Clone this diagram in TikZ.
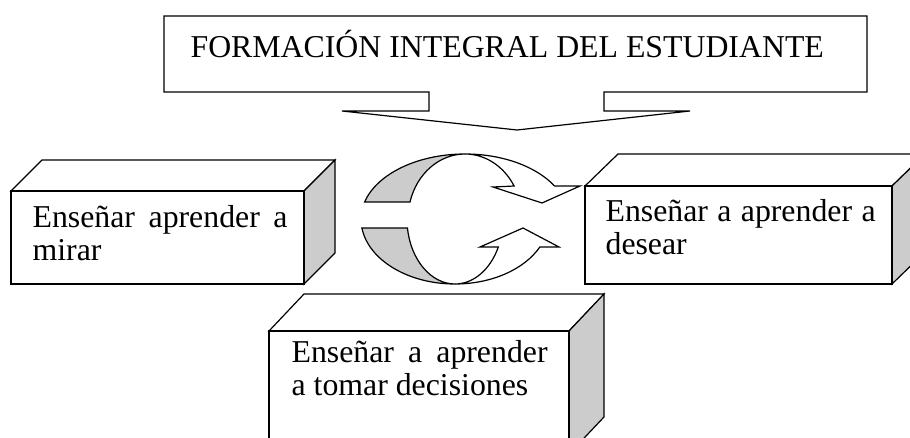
\documentclass[tikz,border=0pt]{standalone}
\usepackage{fontspec}
\setmainfont{Liberation Serif}
\usetikzlibrary{calc}
\tolerance=9999
\hyphenpenalty=10000

\begin{document}
\begin{tikzpicture}[x=1pt,y=1pt,yscale=-1,line width=1.2pt]
\tikzstyle{every node}+=[inner sep=0pt]
\tikzstyle{boxtext}=[anchor=base west,align=justify,font=\fontsize{31.8}{33}\selectfont]
\tikzstyle{face}=[fill=white,draw=black]
\tikzstyle{sideface}=[fill=black!20,draw=black]
\useasboundingbox (0,0) rectangle (910,438);
\draw[face] (164,16) -- (867,16) -- (867,92) -- (604,92) -- (604,111) -- (690,111) -- (517,130) -- (342,111) -- (429,111) -- (429,92) -- (164,92) -- cycle;
\node[anchor=base west,font=\fontsize{31.8}{33}\selectfont] (titulo) at (190,58) {FORMACIÓN INTEGRAL DEL ESTUDIANTE};
\draw[face] (11,191) -- (42,160) -- (335,160) -- (304,191) -- cycle;
\draw[sideface] (304,191) -- (335,160) -- (335,253) -- (304,284) -- cycle;
\draw[face] (11,191) rectangle (304,284);
\node[boxtext,text width=255pt] (mirar) at (32,228) {Enseñar aprender a mirar};
\draw[face] (585,186) -- (618,154) -- (925,154) -- (892,186) -- cycle;
\draw[sideface] (892,186) -- (925,154) -- (925,252) -- (892,284) -- cycle;
\draw[face] (585,186) rectangle (892,284);
\node[boxtext,text width=270pt] (desear) at (605,222) {Enseñar a aprender a desear};
\draw[face] (269,331) -- (304,294) -- (604,294) -- (569,331) -- cycle;
\draw[sideface] (569,331) -- (604,294) -- (604,417) -- (569,454) -- cycle;
\draw[face] (269,331) rectangle (569,454);
\node[boxtext,text width=256pt] (decidir) at (291,362) {Enseñar a aprender a tomar decisiones};
\coordinate (cu) at (465,219);
\coordinate (cl) at (455,219);
\draw[sideface] ($(cu)+(195.2:104 and 65)$) arc[start angle=195.2,end angle=270,x radius=104,y radius=65] arc[start angle=270,end angle=195.2,x radius=57,y radius=65] -- cycle;
\draw[face] ($(cu)+(270:104 and 65)$) arc[start angle=270,end angle=329.5,x radius=104,y radius=65] -- (580,186) -- (542,203) -- (493,187) -- ($(cu)+(329.5:57 and 65)$) arc[start angle=329.5,end angle=270,x radius=57,y radius=65] -- cycle;
\draw[sideface] ($(cl)+(172:94 and 65)$) arc[start angle=172,end angle=90,x radius=94,y radius=65] arc[start angle=90,end angle=172,x radius=48,y radius=65] -- cycle;
\draw[face] ($(cl)+(90:94 and 65)$) arc[start angle=90,end angle=25.5,x radius=94,y radius=65] -- (559,247) -- (523,228) -- (480,247) -- ($(cl)+(25.5:48 and 65)$) arc[start angle=25.5,end angle=90,x radius=48,y radius=65] -- cycle;
\end{tikzpicture}
\end{document}
